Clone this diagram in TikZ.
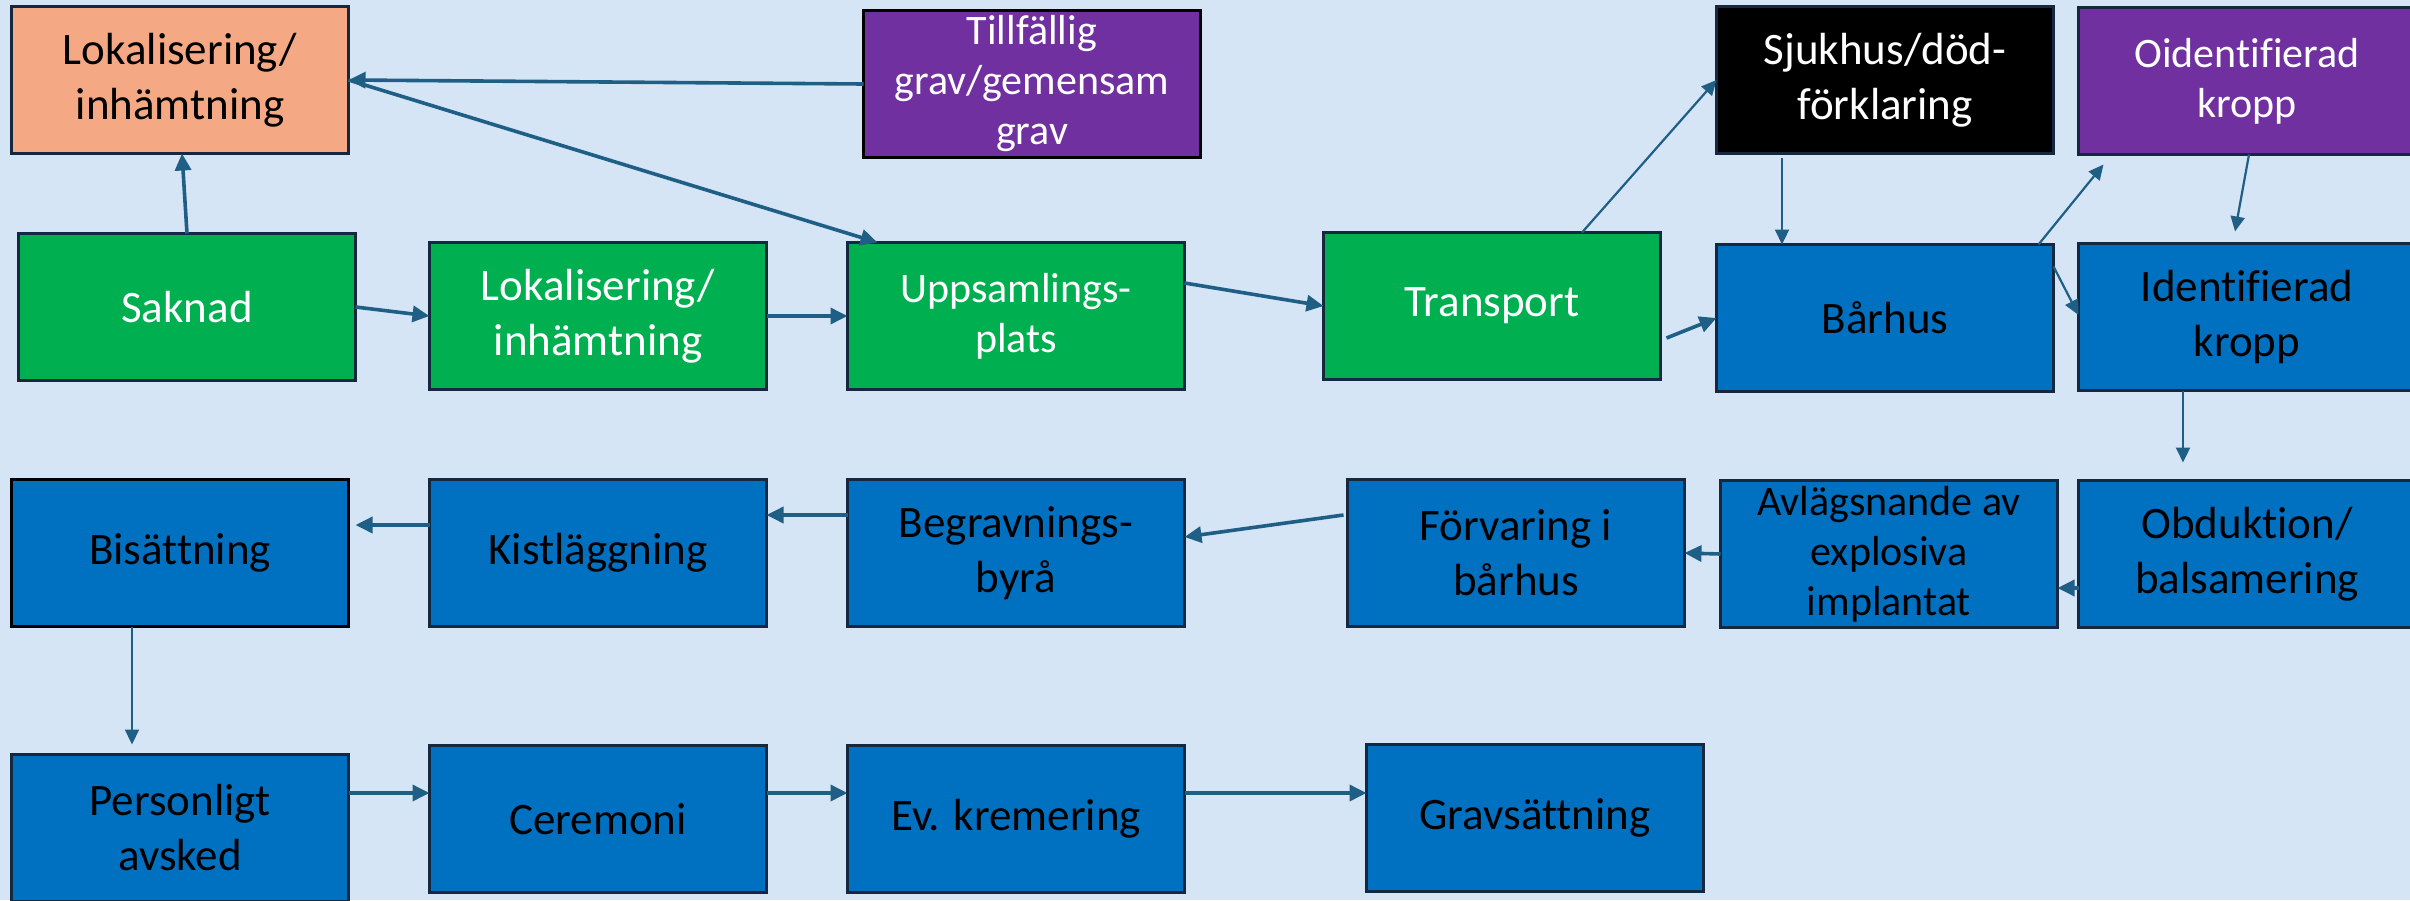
\documentclass[tikz,border=0pt]{standalone}
\usepackage{fontspec}
\setmainfont{Carlito}[Ligatures=NoCommon]
\usetikzlibrary{calc,arrows.meta}
\definecolor{bgc}{HTML}{D5E5F6}
\definecolor{edgec}{HTML}{16283F}
\definecolor{arrc}{HTML}{1F5F86}
\definecolor{gr}{HTML}{00B050}
\definecolor{bl}{HTML}{0070C0}
\definecolor{pu}{HTML}{7030A0}
\definecolor{orc}{HTML}{F4A984}
\tikzset{
  box/.style={draw=edgec, line width=1.6pt, minimum width=168.5pt, minimum height=73.5pt,
    inner sep=1pt, align=center, font=\fontsize{22.5}{27.5}\selectfont, outer sep=0pt},
  smalltxt/.style={font=\fontsize{21}{25}\selectfont},
  greenbox/.style={box, fill=gr, text=white},
  bluebox/.style={box, fill=bl, text=black},
  purplebox/.style={box, fill=pu, text=white},
  conn/.style={draw=arrc, line width=1.8pt, -{Triangle[length=8.5pt,width=8pt]}},
  thinconn/.style={draw=arrc, line width=1.1pt, -{Triangle[length=7.5pt,width=7pt]}}
}
\begin{document}
\begin{tikzpicture}[x=0.5pt,y=-0.5pt]
\useasboundingbox (0,0) rectangle (2410,900);
\fill[bgc] (0,0) rectangle (2410,900);
% row 1
\node[box, fill=orc, text=black] (lokA) at (180,80) {Lokalisering/\\inhämtning};
\node[purplebox, smalltxt, draw=black] (tillf) at (1032,84) {Tillfällig\\grav/gemensam\\grav};
\node[box, fill=black, text=white] (sjuk) at (1885,80) {Sjukhus/död-\\förklaring};
\node[purplebox, smalltxt] (oid) at (2247,81) {Oidentifierad\\kropp};
% row 2
\node[greenbox] (saknad) at (187,307) {Saknad};
\node[greenbox] (lokB) at (598,316) {Lokalisering/\\inhämtning};
\node[greenbox, smalltxt] (upps) at (1016,316) {Uppsamlings-\\plats};
\node[greenbox] (transp) at (1492,306) {Transport};
\node[bluebox] (barhus) at (1885,318) {Bårhus};
\node[bluebox] (ident) at (2247,317) {Identifierad\\kropp};
% row 3
\node[bluebox, draw=black] (bis) at (180,553) {Bisättning};
\node[bluebox] (kist) at (598,553) {Kistläggning};
\node[bluebox] (begr) at (1016,553) {Begravnings-\\byrå};
\node[bluebox] (forv) at (1516,553) {Förvaring i\\bårhus};
\node[bluebox, smalltxt] (avl) at (1889,554) {Avlägsnande av\\explosiva\\implantat};
\node[bluebox] (obd) at (2247,554) {Obduktion/\\balsamering};
% row 4
\node[bluebox] (pers) at (180,828) {Personligt\\avsked};
\node[bluebox] (cer) at (598,819) {Ceremoni};
\node[bluebox] (ev) at (1016,819) {Ev. kremering};
\node[bluebox] (grav) at (1535,818) {Gravsättning};
% connectors
\draw[conn] (saknad.north) -- ($(lokA.south)+(2,0)$);
\draw[conn] (tillf.west) -- (lokA.east);
\draw[conn] (lokA.east) -- ($(upps.north west)+(30,0)$);
\draw[conn] (saknad.east) -- (lokB.west);
\draw[conn] (lokB.east) -- (upps.west);
\draw[conn] ($(upps.east)+(0,-33)$) -- (transp.west);
\draw[thinconn] ($(transp.north)+(90,0)$) -- (sjuk.west);
\draw[conn] ($(transp.east)+(6,32)$) -- (barhus.west);
\draw[thinconn] ($(sjuk.south)+(-103,4)$) -- ($(barhus.north)+(-103,0)$);
\draw[thinconn] ($(barhus.north east)+(-15,0)$) -- ($(oid.south west)+(25,10)$);
\draw[thinconn] ($(oid.south)+(2,0)$) -- ($(ident.north)+(-12,-12)$);
\draw[thinconn] ($(barhus.north east)+(0,22)$) -- ($(ident.west)+(0,-2)$);
\draw[thinconn] ($(ident.south)+(-64,0)$) -- ($(obd.north)+(-64,-18)$);
\draw[conn] ($(obd.west)+(0,34)$) -- ($(avl.east)+(0,34)$);
\draw[conn] (avl.west) -- (forv.east);
\draw[conn] ($(forv.west)+(-4,-38)$) -- ($(begr.east)+(0,-16)$);
\draw[conn] ($(begr.west)+(0,-38)$) -- ($(kist.east)+(0,-38)$);
\draw[conn] ($(kist.west)+(0,-28)$) -- ($(bis.east)+(7,-28)$);
\draw[thinconn] ($(bis.south)+(-48,0)$) -- ($(pers.north)+(-48,-10)$);
\draw[conn] ($(pers.east)+(0,-35)$) -- ($(cer.west)+(0,-26)$);
\draw[conn] ($(cer.east)+(0,-26)$) -- ($(ev.west)+(0,-26)$);
\draw[conn] ($(ev.east)+(0,-26)$) -- ($(grav.west)+(0,-25)$);
\end{tikzpicture}
\end{document}
